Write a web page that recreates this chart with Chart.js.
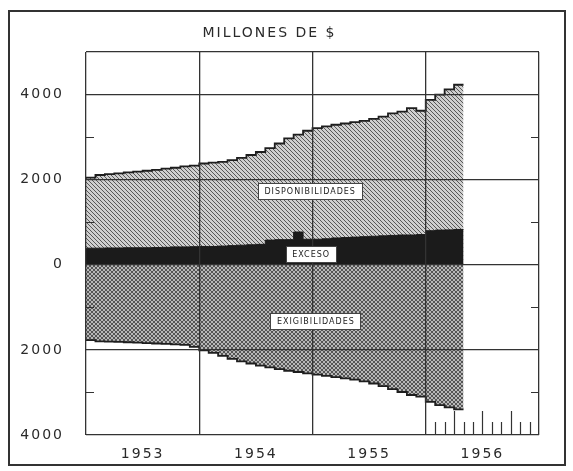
<!DOCTYPE html>
<html><head><meta charset="utf-8">
<script src="https://cdn.jsdelivr.net/npm/chart.js@4/dist/chart.umd.min.js"></script>
<style>
html,body{margin:0;padding:0;background:#fff;}
#wrap{position:relative;width:573px;height:471px;}
#frame{position:absolute;left:8px;top:10px;width:558px;height:456px;border:2px solid #333;box-sizing:border-box;pointer-events:none;}
canvas{position:absolute;left:0;top:0;}
</style></head><body>
<div id="wrap"><canvas id="c" width="573" height="471"></canvas><div id="frame"></div></div>
<script>
// ---- data (monthly, Jan 1953 .. Apr 1956), millions of $ ----
const years = ['1953', '1954', '1955', '1956'];
const disponibilidades = [
  2050, 2110, 2130, 2150, 2170, 2190, 2210, 2230, 2260, 2280, 2310, 2330,
  2380, 2400, 2420, 2460, 2510, 2580, 2650, 2740, 2850, 2970, 3060, 3150,
  3210, 3250, 3290, 3320, 3350, 3380, 3430, 3480, 3560, 3600, 3680, 3620,
  3875, 4000, 4120, 4230
];
const exceso = [
  390, 390, 395, 395, 400, 400, 400, 405, 410, 420, 420, 425,
  430, 430, 440, 450, 460, 470, 480, 580, 590, 590, 770, 600,
  600, 610, 630, 640, 650, 660, 670, 680, 690, 700, 700, 710,
  800, 815, 820, 830
];
const exigibilidades = [
  -1770, -1800, -1805, -1810, -1820, -1830, -1840, -1850, -1860, -1870, -1880, -1930,
  -2010, -2070, -2140, -2210, -2270, -2320, -2370, -2410, -2450, -2490, -2520, -2550,
  -2580, -2610, -2640, -2670, -2700, -2740, -2790, -2850, -2920, -2990, -3060, -3100,
  -3220, -3300, -3350, -3400
];
const seriesNames = ['DISPONIBILIDADES', 'EXCESO', 'EXIGIBILIDADES'];
const title = 'MILLONES DE $';

// ---- helpers ----
function stepData(vals) {
  const d = vals.map((v, i) => ({x: i, y: v}));
  d.push({x: vals.length, y: vals[vals.length - 1]});
  return d;
}
function makePattern(bg, fg, cross) {
  const p = document.createElement('canvas');
  p.width = 4; p.height = 4;
  const g = p.getContext('2d');
  g.fillStyle = bg; g.fillRect(0, 0, 4, 4);
  g.fillStyle = fg;
  for (let i = 0; i < 4; i++) {
    g.fillRect(i, i, 1, 1);
    if (cross) g.fillRect(i, 3 - i, 1, 1);
  }
  return document.getElementById('c').getContext('2d').createPattern(p, 'repeat');
}
const patDisp = makePattern('#cfcfcf', '#585858', false);
const patExig = makePattern('#b8b8b8', '#555555', true);

const INK = '#2a2a2a';
const FONT = "'DejaVu Sans', sans-serif";

const decor = {
  id: 'decor',
  beforeDraw(chart) { chart.ctx.letterSpacing = '2px'; },
  afterDatasetsDraw(chart) { chart.ctx.letterSpacing = '2px'; },
  afterDraw(chart, args, opts) {
    const ctx = chart.ctx, xs = chart.scales.x, ys = chart.scales.y, a = chart.chartArea;
    ctx.save();
    ctx.letterSpacing = '0px';
    ctx.strokeStyle = '#333';
    ctx.lineWidth = 1.2;
    // minor y ticks at odd thousands (inside, both edges)
    for (let v = ys.min + 1000; v < ys.max; v += 2000) {
      const y = Math.round(ys.getPixelForValue(v)) + 0.5;
      ctx.beginPath();
      ctx.moveTo(a.left, y); ctx.lineTo(a.left + 8, y);
      ctx.moveTo(a.right - 8, y); ctx.lineTo(a.right, y);
      ctx.stroke();
    }
    // monthly ticks in last year
    const start = (years.length - 1) * 12;
    for (let k = 1; k < 12; k++) {
      const x = Math.round(xs.getPixelForValue(start + k)) + 0.5;
      const len = k % 3 === 0 ? 24 : 13;
      ctx.beginPath();
      ctx.moveTo(x, a.bottom); ctx.lineTo(x, a.bottom - len);
      ctx.stroke();
    }
    // series labels in boxes
    ctx.font = '8px ' + FONT;
    ctx.letterSpacing = '1px';
    ctx.textAlign = 'center';
    ctx.textBaseline = 'middle';
    opts.labels.forEach(l => {
      const x = xs.getPixelForValue(l.x), y = ys.getPixelForValue(l.y);
      const w = ctx.measureText(l.text).width + 12, h = 16;
      ctx.fillStyle = '#fff';
      ctx.fillRect(Math.round(x - w / 2) + 0.5, Math.round(y - h / 2) + 0.5, Math.round(w), h);
      ctx.strokeStyle = '#444'; ctx.lineWidth = 1;
      ctx.strokeRect(Math.round(x - w / 2) + 0.5, Math.round(y - h / 2) + 0.5, Math.round(w), h);
      ctx.fillStyle = '#222';
      ctx.fillText(l.text, x + 0.5, y + 1);
    });
    ctx.restore();
    ctx.letterSpacing = '0px';
  }
};

new Chart(document.getElementById('c'), {
  type: 'line',
  data: {
    datasets: [
      {label: seriesNames[1], data: stepData(exceso), stepped: 'before', fill: 'origin',
       backgroundColor: '#1b1b1b', borderColor: '#1b1b1b', borderWidth: 1, pointRadius: 0, order: 1},
      {label: seriesNames[2], data: stepData(exigibilidades), stepped: 'before', fill: 'origin',
       backgroundColor: patExig, borderColor: '#1e1e1e', borderWidth: 1.8, pointRadius: 0, order: 2},
      {label: seriesNames[0], data: stepData(disponibilidades), stepped: 'before', fill: 'origin',
       backgroundColor: patDisp, borderColor: '#1e1e1e', borderWidth: 1.8, pointRadius: 0, order: 3}
    ]
  },
  options: {
    responsive: false,
    animation: false,
    layout: {padding: {left: 0, right: 34, top: 0, bottom: 0}},
    plugins: {
      legend: {display: false},
      tooltip: {enabled: false},
      title: {display: true, text: title, color: INK,
              font: {family: FONT, size: 14, weight: 'normal'},
              padding: {top: 25, bottom: 10.2}},
      decor: {labels: [
        {text: seriesNames[0], x: 23.7, y: 1740},
        {text: seriesNames[1], x: 23.8, y: 250},
        {text: seriesNames[2], x: 24.3, y: -1320}
      ]}
    },
    scales: {
      x: {
        type: 'linear', min: 0, max: years.length * 12, z: 1,
        afterFit: s => { s.height = 36; },
        border: {display: false, z: 1},
        grid: {z: 1, drawTicks: false, lineWidth: 1.3,
               color: c => (c.tick && c.tick.value % 12 === 0) ? '#333' : 'rgba(0,0,0,0)'},
        ticks: {z: 1, stepSize: 6, autoSkip: false, maxRotation: 0, padding: 11, color: INK,
                font: {family: FONT, size: 14},
                callback: v => (v % 12 === 6) ? years[(v - 6) / 12] : ''}
      },
      y: {
        type: 'linear', min: -4000, max: 5000, z: 1,
        afterFit: s => { s.width = 86; },
        border: {display: false, z: 1},
        grid: {z: 1, drawTicks: false, lineWidth: 1.3,
               color: c => (c.tick && (c.tick.value % 2000 === 0 || c.tick.value === 5000)) ? '#333' : 'rgba(0,0,0,0)'},
        ticks: {z: 1, stepSize: 1000, autoSkip: false, padding: 22, color: INK,
                font: {family: FONT, size: 14},
                callback: v => (v % 2000 === 0) ? String(Math.abs(v)) : ''}
      }
    }
  },
  plugins: [decor]
});
</script>
</body></html>
